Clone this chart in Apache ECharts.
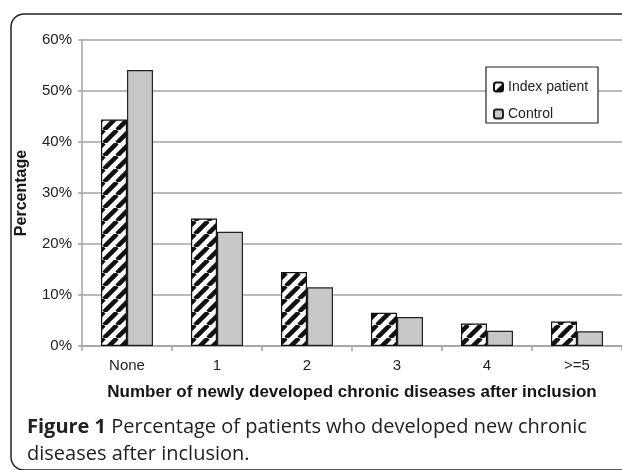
<!DOCTYPE html>
<html>
<head>
<meta charset="utf-8">
<script src="https://cdn.jsdelivr.net/npm/echarts@6/dist/echarts.min.js"></script>
<style>html,body{margin:0;padding:0;background:#fff}#c{width:622px;height:470px}</style>
</head>
<body>
<div id="c"></div>
<script>
var categories = ['None', '1', '2', '3', '4', '>=5'];
var indexPatient = [44.4, 25.0, 14.5, 6.5, 4.4, 4.8];
var control = [54.1, 22.4, 11.5, 5.7, 3.0, 2.9];
var seriesNames = ['Index patient', 'Control'];
var yTicks = { min: 0, max: 60, interval: 10 };
var xTitle = 'Number of newly developed chronic diseases after inclusion';
var yTitle = 'Percentage';
var captionBold = 'Figure 1';
var captionRest = ' Percentage of patients who developed new chronic\ndiseases after inclusion.';

function hatch() {
  var s = 13;
  var c = document.createElement('canvas');
  c.width = s; c.height = s;
  var ctx = c.getContext('2d');
  ctx.fillStyle = '#fff';
  ctx.fillRect(0, 0, s, s);
  ctx.strokeStyle = '#111';
  ctx.lineWidth = 4.5;
  ctx.beginPath();
  for (var k = -1; k <= 1; k++) {
    ctx.moveTo(k * s, s);
    ctx.lineTo(k * s + s, 0);
  }
  ctx.stroke();
  return c;
}

var chart = echarts.init(document.getElementById('c'));
var gridColor = '#a3a3a3';
chart.setOption({
  animation: false,
  backgroundColor: '#fff',
  grid: { left: 82, right: -10, top: 40, bottom: 124, containLabel: false },
  legend: {
    orient: 'vertical', left: 488, top: 75,
    itemWidth: 9, itemHeight: 9, itemGap: 13,
    textStyle: { fontFamily: 'Liberation Sans', fontSize: 14, color: '#222', lineHeight: 14 },
    data: seriesNames
  },
  xAxis: {
    type: 'category', data: categories,
    name: xTitle, nameLocation: 'middle', nameGap: 38,
    nameTextStyle: { fontFamily: 'Liberation Sans', fontSize: 17, fontWeight: 'bold', color: '#151515' },
    axisLine: { lineStyle: { color: gridColor, width: 1.5 } },
    axisTick: { show: true, length: 5, lineStyle: { color: gridColor, width: 1.5 } },
    axisLabel: { fontFamily: 'Liberation Sans', fontSize: 15, color: '#222', margin: 12 }
  },
  yAxis: {
    type: 'value', min: yTicks.min, max: yTicks.max, interval: yTicks.interval,
    name: yTitle, nameLocation: 'middle', nameGap: 52, nameRotate: 90,
    nameTextStyle: { fontFamily: 'Liberation Sans', fontSize: 16, fontWeight: 'bold', color: '#151515' },
    axisLine: { show: true, lineStyle: { color: gridColor, width: 1.5 } },
    axisTick: { show: true, length: 4, lineStyle: { color: gridColor, width: 1.5 } },
    axisLabel: { fontFamily: 'Liberation Sans', fontSize: 15, color: '#222', margin: 10, formatter: '{value}%' },
    splitLine: { lineStyle: { color: gridColor, width: 1.5 } }
  },
  graphic: [
    { type: 'rect', z: 3, shape: { x: 486, y: 67, width: 112, height: 56 },
      style: { fill: '#fff', stroke: '#222', lineWidth: 1.2 } },
    { type: 'rect', z: 10, shape: { x: 11, y: 14, width: 700, height: 456, r: 13 },
      style: { fill: 'none', stroke: '#222', lineWidth: 1.5 } },
    { type: 'text', z: 10, left: 27, top: 414,
      style: {
        text: '{b|' + captionBold + '}' + captionRest,
        font: '20px "Open Sans"', fill: '#222', lineHeight: 27,
        rich: { b: { fontFamily: 'Open Sans', fontSize: 20, fontWeight: 'bold', fill: '#222', lineHeight: 27 } }
      } }
  ],
  series: [
    { name: seriesNames[0], type: 'bar', data: indexPatient, barWidth: 26, barGap: '0%',
      itemStyle: { color: { image: hatch(), repeat: 'repeat' }, borderColor: '#111', borderWidth: 1.2 } },
    { name: seriesNames[1], type: 'bar', data: control, barWidth: 26,
      itemStyle: { color: '#c8c8c8', borderColor: '#222', borderWidth: 1.2 } }
  ]
});
</script>
</body>
</html>
